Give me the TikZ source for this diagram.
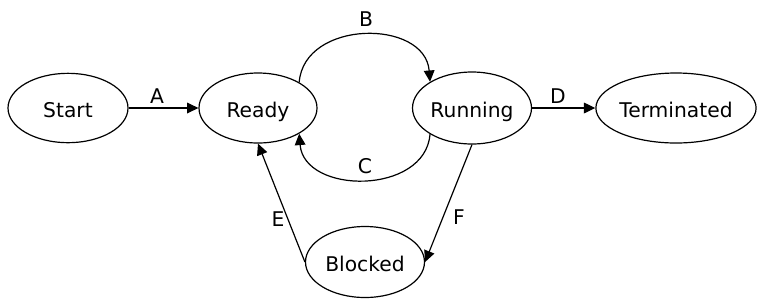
\documentclass[tikz,border=0pt]{standalone}
\usepackage{fontspec}
\setmainfont{DejaVu Sans}
\usetikzlibrary{shapes.geometric,arrows.meta}
\begin{document}
\begin{tikzpicture}[x=0.75pt,y=-0.75pt,
  state/.style={ellipse,draw,line width=0.9pt,inner sep=0pt,text height=13.5pt,text depth=0pt,font=\fontsize{15.2}{18}\selectfont},
  lbl/.style={font=\fontsize{15.2}{18}\selectfont,inner sep=0pt},
  edge/.style={draw,line width=0.9pt,-{Triangle[length=8.5pt,width=8pt]}}]
\useasboundingbox (0,0) rectangle (778,305);
\node[state,minimum width=90pt,minimum height=52pt] (start) at (68,108) {Start};
\node[state,minimum width=88.5pt,minimum height=52.5pt] (ready) at (258,108) {Ready};
\node[state,minimum width=89.25pt,minimum height=54pt] (running) at (472,108) {Running};
\node[state,minimum width=116.25pt,minimum height=52.5pt] (term) at (676,108) {Terminated};
\node[state,minimum width=89.25pt,minimum height=53.25pt] (blocked) at (365,262) {Blocked};
\path[edge] (start) -- (ready);
\path[edge] (running) -- (term);
\path[edge] (ready.32) .. controls +(5,-63) and +(-5,-63) .. (running.148);
\path[edge] (running.212) .. controls +(-5,61) and +(5,61) .. (ready.328);
\path[edge] (blocked.west) -- (ready.south);
\path[edge] (running.south) -- (blocked.east);
\node[lbl] (la) at (157,96) {A};
\node[lbl] (lb) at (366,19) {B};
\node[lbl] (lc) at (365,166) {C};
\node[lbl] (ld) at (558,96) {D};
\node[lbl] (le) at (278,219) {E};
\node[lbl] (lf) at (459,217) {F};
\end{tikzpicture}
\end{document}
